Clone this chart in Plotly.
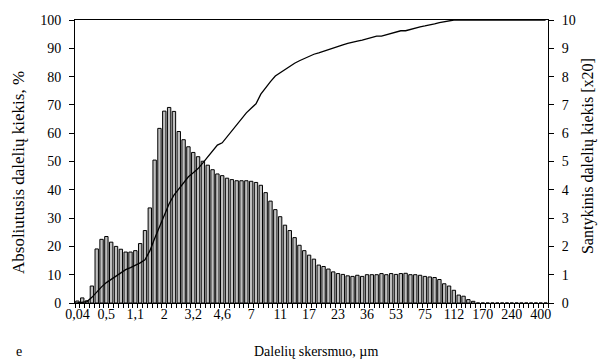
import plotly.graph_objects as go

# Absolute amount of particles (%), one value per size class (bin)
abs_values = [
    0.7, 1.8, 0.8, 6.0, 19.1, 22.5, 23.5, 21.5, 20.0, 19.0,
    18.0, 18.0, 18.5, 21.0, 25.6, 33.6, 50.5, 61.7, 67.8, 69.1,
    67.7, 60.6, 57.7, 55.2, 53.2, 51.7, 50.1, 48.7, 47.1, 45.6,
    45.0, 44.1, 43.6, 43.2, 43.2, 43.2, 43.0, 42.6, 41.6, 39.0,
    36.0, 33.0, 30.5, 27.5, 25.6, 23.1, 20.4, 18.5, 16.9, 15.5,
    13.4, 12.9, 12.0, 11.0, 10.4, 10.1, 9.6, 9.4, 9.8, 9.4,
    10.0, 10.0, 10.0, 10.4, 10.0, 10.4, 10.1, 10.4, 10.5, 10.0,
    10.0, 9.8, 9.4, 9.2, 9.0, 8.3, 6.8, 6.0, 4.5, 2.8,
    2.4, 1.2, 0.6, 0, 0, 0, 0, 0, 0, 0,
    0, 0, 0, 0, 0, 0, 0, 0,
]

# Relative (cumulative) amount of particles [x20], right axis 0..10
cum_values = [
    0.0, 0.03, 0.05, 0.20, 0.39, 0.57, 0.72, 0.83, 0.94, 1.06,
    1.18, 1.25, 1.33, 1.42, 1.53, 1.84, 2.28, 2.69, 3.10, 3.51,
    3.81, 4.04, 4.25, 4.46, 4.60, 4.75, 4.95, 5.17, 5.40, 5.58,
    5.66, 5.87, 6.11, 6.29, 6.52, 6.72, 6.88, 7.04, 7.38, 7.62,
    7.82, 8.02, 8.14, 8.25, 8.38, 8.47, 8.56, 8.64, 8.73, 8.79,
    8.84, 8.90, 8.96, 9.02, 9.08, 9.12, 9.17, 9.20, 9.25, 9.29,
    9.34, 9.39, 9.43, 9.43, 9.48, 9.53, 9.58, 9.62, 9.62, 9.67,
    9.73, 9.76, 9.79, 9.82, 9.86, 9.91, 9.94, 9.98, 10.0, 10.0,
    10.0, 10.0, 10.0, 10.0, 10.0, 10.0, 10.0, 10.0, 10.0, 10.0,
    10.0, 10.0, 10.0, 10.0, 10.0, 10.0, 10.0, 10.0,
]

# Particle diameter labels (µm), shown on every 6th size class
tick_labels = ["0,04", "0,5", "1,1", "2", "3,2", "4,6", "7", "11", "17",
               "23", "36", "53", "75", "112", "170", "240", "400"]
label_step = 6

n = len(abs_values)
xs = list(range(n))
tick_positions = [i * label_step for i in range(len(tick_labels))]

FONT = "Liberation Serif"

fig = go.Figure()
fig.add_trace(go.Bar(
    x=xs, y=abs_values,
    marker=dict(color="#c0c0c0", line=dict(color="black", width=1)),
    yaxis="y", showlegend=False,
))
fig.add_trace(go.Scatter(
    x=xs, y=cum_values, mode="lines",
    line=dict(color="black", width=1.3),
    yaxis="y2", showlegend=False,
))

fig.update_layout(
    width=601, height=360,
    margin=dict(l=75, r=53, t=20, b=57),
    paper_bgcolor="white", plot_bgcolor="white",
    font=dict(family=FONT, size=14, color="black"),
    bargap=0.3,
    xaxis=dict(
        range=[-0.5, n - 0.5],
        tickmode="array", tickvals=tick_positions, ticktext=tick_labels,
        ticks="", showline=True, linecolor="black", linewidth=1,
        mirror=True, showgrid=False, zeroline=False,
        ticklabelstandoff=-2,
        minor=dict(tickmode="linear", tick0=-0.5, dtick=1, ticks="outside",
                   ticklen=4, tickcolor="black", tickwidth=1, showgrid=False),
    ),
    yaxis=dict(
        range=[0, 100], tickmode="linear", tick0=0, dtick=10,
        ticks="outside", ticklen=5, tickcolor="black",
        showline=True, linecolor="black", linewidth=1,
        showgrid=False, zeroline=False, ticklabelstandoff=5,
    ),
    yaxis2=dict(
        range=[0, 10], tickmode="linear", tick0=0, dtick=1,
        overlaying="y", side="right",
        ticks="outside", ticklen=5, tickcolor="black",
        showline=True, linecolor="black", linewidth=1,
        showgrid=False, zeroline=False, ticklabelstandoff=5,
    ),
    annotations=[
        dict(text="Absoliutusis dalelių kiekis, %", xref="paper", yref="paper",
             x=-0.118, y=0.46, textangle=-90, showarrow=False,
             xanchor="center", yanchor="middle", font=dict(size=17)),
        dict(text="Santykinis dalelių kiekis [x20]", xref="paper", yref="paper",
             x=1.085, y=0.52, textangle=-90, showarrow=False,
             xanchor="center", yanchor="middle", font=dict(size=16)),
        dict(text="Dalelių skersmuo, µm", xref="paper", yref="paper",
             x=0.51, y=-0.17, showarrow=False,
             xanchor="center", yanchor="middle", font=dict(size=14)),
        dict(text="e", xref="paper", yref="paper",
             x=-0.118, y=-0.17, showarrow=False,
             xanchor="center", yanchor="middle", font=dict(size=14)),
    ],
)

fig.write_html("out.html")
